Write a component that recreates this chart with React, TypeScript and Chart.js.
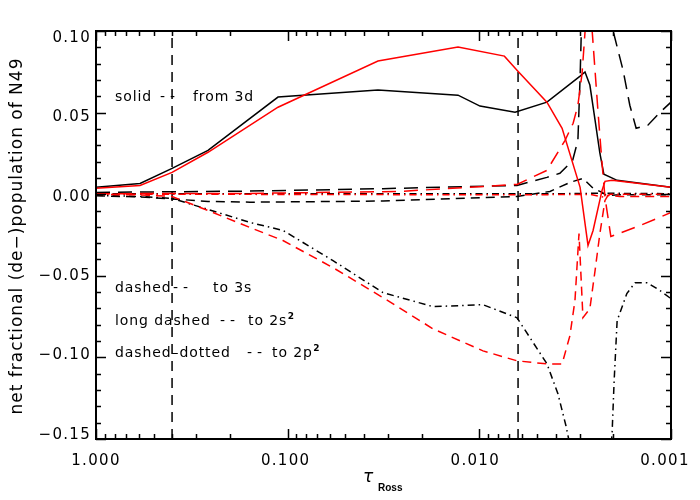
import React, { useEffect, useRef } from "react";
import { Chart, registerables } from "chart.js";

Chart.register(...registerables);

// ---- axes ----
const TAU_MIN = 0.001;
const TAU_MAX = 1;
const Y_MIN = -0.15;
const Y_MAX = 0.1;
const xTickValues = [1, 0.1, 0.01, 0.001];
const xTickLabels = ["1.000", "0.100", "0.010", "0.001"];
const yTickValues = [0.1, 0.05, 0, -0.05, -0.1, -0.15];
const yTickLabels = ["0.10", "0.05", "0.00", "\u22120.05", "\u22120.10", "\u22120.15"];
const markerTaus = [0.401, 0.00628];

// ---- from 3d (solid) ----
const tauBlackSolid = [1.0, 0.589, 0.401, 0.2604, 0.1123, 0.0338, 0.01292, 0.00992, 0.00651, 0.00444, 0.00298, 0.00281, 0.00265, 0.00249, 0.00235, 0.00224, 0.00191, 0.001];
const valBlackSolid = [0.0042, 0.0066, 0.0158, 0.0269, 0.0595, 0.0638, 0.0607, 0.054, 0.0502, 0.0564, 0.0724, 0.0749, 0.0669, 0.0454, 0.0251, 0.0122, 0.0085, 0.0042];
const tauRedSolid = [1.0, 0.589, 0.401, 0.2604, 0.1123, 0.0338, 0.01292, 0.0074, 0.00636, 0.00444, 0.0037, 0.00298, 0.00271, 0.00255, 0.00229, 0.00221, 0.00203, 0.001];
const valRedSolid = [0.0036, 0.0054, 0.0134, 0.0257, 0.0533, 0.0816, 0.0902, 0.0846, 0.076, 0.0564, 0.0404, 0.0042, -0.0314, -0.0222, 0.0023, 0.0079, 0.0085, 0.0042];

// ---- to 3s (dashed) ----
const tauBlackDashed = [1.0, 0.589, 0.401, 0.2604, 0.1572, 0.0318, 0.00636, 0.00428, 0.00337, 0.00288, 0.00255, 0.00229, 0.00218, 0.00185, 0.001];
const valBlackDashed = [-0.001, -0.0017, -0.0029, -0.0044, -0.0049, -0.0042, -0.0014, 0.0017, 0.0072, 0.0097, 0.0036, 0.0011, -0.0007, -0.0004, -0.0004];
const tauRedDashed = [1.0, 0.589, 0.401, 0.2604, 0.1572, 0.1058, 0.058, 0.0318, 0.01744, 0.00957, 0.00636, 0.00444, 0.0037, 0.00337, 0.00317, 0.00302, 0.00288, 0.00265, 0.00249, 0.00235, 0.00221, 0.00213, 0.00185, 0.001];
const valRedDashed = [-0.0001, -0.0004, -0.0014, -0.01, -0.0204, -0.0284, -0.045, -0.0634, -0.0825, -0.096, -0.1021, -0.104, -0.104, -0.0868, -0.0652, -0.0241, -0.0757, -0.0701, -0.0468, -0.0241, -0.0038, -0.0007, -0.0014, -0.0014];

// ---- to 2s^2 (long dashed) ----
const tauBlackLong = [1.0, 0.1572, 0.0318, 0.00636, 0.00444, 0.0038, 0.00345, 0.00328, 0.00306, 0.00298, 0.00288, 0.00235, 0.00208, 0.00201, 0.00178, 0.00164, 0.00152, 0.00132, 0.00114, 0.001];
const valBlackLong = [0.0011, 0.0019, 0.0034, 0.0054, 0.0103, 0.0128, 0.0177, 0.0195, 0.033, 0.0717, 0.1375, 0.18, 0.1313, 0.1006, 0.0761, 0.0545, 0.0404, 0.0423, 0.0502, 0.0564];
const tauRedLong = [1.0, 0.1572, 0.0259, 0.00636, 0.00444, 0.00357, 0.00324, 0.00306, 0.00291, 0.00271, 0.00258, 0.0024, 0.00229, 0.00221, 0.00206, 0.00145, 0.001];
const valRedLong = [0.0003, 0.0005, 0.0017, 0.006, 0.0146, 0.033, 0.0435, 0.0545, 0.0742, 0.1252, 0.1006, 0.0496, 0.0189, -0.002, -0.0259, -0.0192, -0.0112];

// ---- to 2p^2 (dashed-dotted) ----
const tauBlackDashDot = [1.0, 0.589, 0.401, 0.2604, 0.1572, 0.1058, 0.058, 0.0318, 0.01744, 0.00957, 0.00636, 0.00444, 0.00389, 0.00353, 0.00328, 0.00265, 0.00211, 0.00203, 0.00198, 0.00191, 0.0017, 0.00154, 0.00133, 0.00114, 0.001];
const valBlackDashDot = [-0.0007, -0.0014, -0.0026, -0.0093, -0.0173, -0.0222, -0.0407, -0.0603, -0.0689, -0.0677, -0.0757, -0.1039, -0.1223, -0.142, -0.1604, -0.3722, -0.1697, -0.147, -0.1144, -0.0775, -0.0609, -0.0542, -0.0542, -0.0591, -0.064];
const tauBlackDashDot2 = [1.0, 0.1572, 0.00636, 0.00298, 0.00235, 0.001];
const valBlackDashDot2 = [0.0003, 0.0003, 0.0002, 0.0004, 0.0006, 0.0003];
const tauRedDashDot = [1.0, 0.1572, 0.00636, 0.00265, 0.00221, 0.00208, 0.001];
const valRedDashDot = [-0.0001, -0.0001, -0.0004, -0.0001, -0.002, -0.0001, -0.0001];

const BLACK = "#000000";
const RED = "#ff0000";
const DASH_SHORT = [9, 6];
const DASH_LONG = [14, 8];
const DASH_DOT = [7, 4, 1.5, 4];

function series(taus: number[], vals: number[], color: string, dash: number[]) {
  return {
    data: taus.map((t, i) => ({ x: t, y: vals[i] })),
    borderColor: color,
    backgroundColor: color,
    borderWidth: 1.5,
    borderDash: dash,
    pointRadius: 0,
    pointHoverRadius: 0,
    tension: 0,
    fill: false,
  };
}

const FONT = '"DejaVu Sans", sans-serif';

const decorPlugin = {
  id: "decor",
  afterDraw(chart: any) {
    const { ctx, chartArea: a, scales } = chart;
    const xs = scales.x;
    const ys = scales.y;
    ctx.save();
    ctx.strokeStyle = "#000";
    ctx.fillStyle = "#000";
    ctx.setLineDash([]);
    ctx.lineWidth = 1.5;
    // y ticks (inward, both sides)
    for (let i = -15; i <= 10; i++) {
      const py = Math.round(ys.getPixelForValue(i / 100)) + 0.5;
      const len = i % 5 === 0 ? 10 : 5;
      ctx.beginPath();
      ctx.moveTo(a.left, py);
      ctx.lineTo(a.left + len, py);
      ctx.moveTo(a.right, py);
      ctx.lineTo(a.right - len, py);
      ctx.stroke();
    }
    // x ticks
    for (let e = -3; e <= 0; e++) {
      for (let m = 1; m <= 9; m++) {
        const v = m * Math.pow(10, e);
        if (v > TAU_MAX + 1e-9) continue;
        const px = Math.round(xs.getPixelForValue(v)) + 0.5;
        const len = m === 1 ? 10 : 5;
        ctx.beginPath();
        ctx.moveTo(px, a.bottom);
        ctx.lineTo(px, a.bottom - len);
        ctx.moveTo(px, a.top);
        ctx.lineTo(px, a.top + len);
        ctx.stroke();
      }
    }
    // frame
    ctx.lineWidth = 2;
    ctx.strokeRect(a.left, a.top, a.right - a.left, a.bottom - a.top);

    // tick labels
    ctx.font = "15px " + FONT;
    (ctx as any).letterSpacing = "1.3px";
    ctx.textBaseline = "alphabetic";
    ctx.textAlign = "right";
    const h = a.bottom - a.top;
    yTickValues.forEach((v, i) => {
      const py = ys.getPixelForValue(v);
      const cy = a.top + 5.7 + (py - a.top) * ((h - 11.4) / h);
      ctx.fillText(yTickLabels[i], a.left - 5, cy + 5.4);
    });
    ctx.textAlign = "center";
    const w = a.right - a.left;
    xTickValues.forEach((v, i) => {
      const px = xs.getPixelForValue(v);
      const cx = a.left + (px - a.left) * ((w - 6) / w);
      ctx.fillText(xTickLabels[i], cx, 465);
    });

    // annotations
    ctx.textAlign = "left";
    const rows: [string, number, string, number, string, number][] = [
      ["solid", 160, "from 3d", 193, "", 101],
      ["dashed", 173, "to 3s", 213, "", 292],
      ["long dashed", 220, "to 2s", 248, "2", 325],
      ["dashed\u2013dotted", 247, "to 2p", 272, "2", 357],
    ];
    rows.forEach(([w1, dx, w2, tx, sup, by]) => {
      ctx.font = "14px " + FONT;
      (ctx as any).letterSpacing = "0.9px";
      ctx.fillText(w1, 115, by);
      (ctx as any).letterSpacing = "5px";
      ctx.fillText("--", dx, by);
      (ctx as any).letterSpacing = "0.9px";
      ctx.fillText(w2, tx, by);
      if (sup) {
        const ww = ctx.measureText(w2).width;
        ctx.font = "bold 9px " + FONT;
        (ctx as any).letterSpacing = "0px";
        ctx.fillText(sup, tx + ww + 0.5, by - 6);
      }
    });

    // x-axis title
    (ctx as any).letterSpacing = "0px";
    ctx.font = "italic 17px " + FONT;
    ctx.fillText("\u03c4", 363, 482);
    ctx.font = 'bold 10px "Liberation Sans", sans-serif';
    ctx.fillText("Ross", 378, 491);

    // y-axis title
    ctx.save();
    ctx.translate(22, (a.top + a.bottom) / 2 + 1);
    ctx.rotate(-Math.PI / 2);
    ctx.textAlign = "center";
    ctx.font = "17px " + FONT;
    (ctx as any).letterSpacing = "1px";
    ctx.fillText("net fractional (de\u2212)population of N49", 0, 0);
    ctx.restore();

    (ctx as any).letterSpacing = "0px";
    ctx.restore();
  },
};

export default function App() {
  const ref = useRef<HTMLCanvasElement | null>(null);
  useEffect(() => {
    if (!ref.current) return;
    const datasets: any[] = [
      series(tauRedSolid, valRedSolid, RED, []),
      series(tauRedLong, valRedLong, RED, DASH_LONG),
      series(tauRedDashed, valRedDashed, RED, DASH_SHORT),
      series(tauRedDashDot, valRedDashDot, RED, DASH_DOT),
      series(tauBlackSolid, valBlackSolid, BLACK, []),
      series(tauBlackLong, valBlackLong, BLACK, DASH_LONG),
      series(tauBlackDashed, valBlackDashed, BLACK, DASH_SHORT),
      series(tauBlackDashDot, valBlackDashDot, BLACK, DASH_DOT),
      series(tauBlackDashDot2, valBlackDashDot2, BLACK, DASH_DOT),
      ...markerTaus.map((t) => series([t, t], [Y_MIN, Y_MAX], BLACK, [10, 7])),
    ];
    const chart = new Chart(ref.current, {
      type: "line",
      data: { datasets },
      options: {
        animation: false,
        responsive: false,
        devicePixelRatio: 1,
        events: [],
        layout: { padding: { left: 0, top: 31, right: 29, bottom: 0 } },
        plugins: { legend: { display: false }, tooltip: { enabled: false } },
        scales: {
          x: {
            type: "logarithmic",
            reverse: true,
            min: TAU_MIN,
            max: TAU_MAX,
            ticks: { display: false },
            grid: { display: false },
            border: { display: false },
            afterFit: (s: any) => {
              s.height = 61;
            },
          },
          y: {
            type: "linear",
            min: Y_MIN,
            max: Y_MAX,
            ticks: { display: false },
            grid: { display: false },
            border: { display: false },
            afterFit: (s: any) => {
              s.width = 96;
            },
          },
        },
      } as any,
      plugins: [decorPlugin],
    });
    return () => chart.destroy();
  }, []);
  return (
    <div style={{ position: "absolute", left: 0, top: 0, width: 700, height: 500, background: "#fff" }}>
      <canvas ref={ref} width={700} height={500} style={{ display: "block", width: 700, height: 500 }} />
    </div>
  );
}
